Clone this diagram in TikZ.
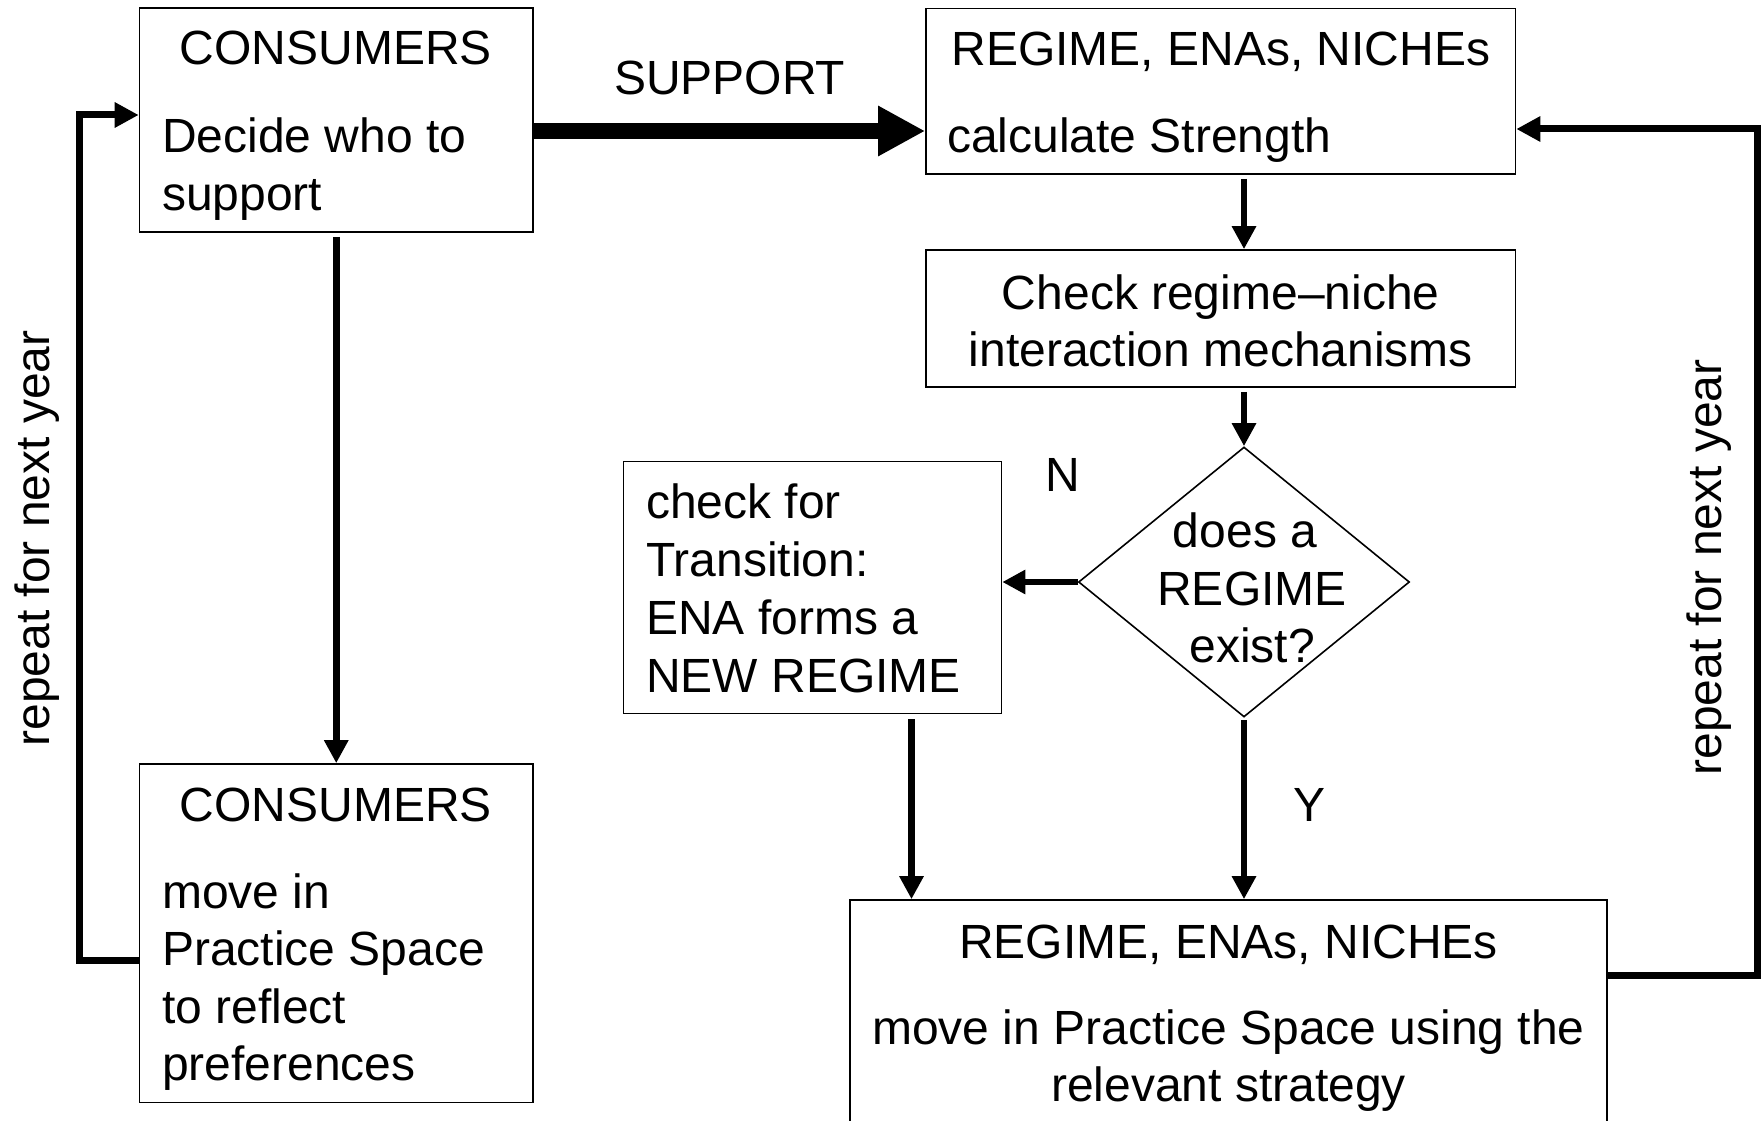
\documentclass[tikz,border=0pt]{standalone}
\usepackage{fontspec}
\setmainfont{Liberation Sans}
\usetikzlibrary{arrows.meta,shapes.geometric,calc}
\newcommand\diagfont{\fontsize{48pt}{57.5pt}\selectfont}
\tikzset{
  box/.style={draw, rectangle, line width=1.6pt, inner sep=0pt},
  decision/.style={draw, diamond, line width=1.6pt, inner sep=0pt},
  txt/.style={font=\diagfont, inner sep=0pt, anchor=base},
  txtl/.style={font=\diagfont, inner sep=0pt, anchor=base west},
  arr/.style={line width=6.5pt, -{Triangle[length=23pt,width=23pt]}},
  bigarr/.style={line width=16pt, -{Triangle[length=47pt,width=47pt]}},
  loopline/.style={line width=7pt, -{Triangle[length=24pt,width=24pt]}},
}
\begin{document}
\begin{tikzpicture}[x=1pt,y=-1pt]
\useasboundingbox (0,0) rectangle (1764,1121);
\fill[white] (0,0) rectangle (1764,1121);
\clip (0,0) rectangle (1764,1121);

% boxes
\node[box, minimum width=393.5pt, minimum height=224pt] (A) at (336.25,120) {};
\node[box, minimum width=589.5pt, minimum height=165.5pt] (B) at (1220.75,91.25) {};
\node[box, minimum width=589.5pt, minimum height=137pt] (C) at (1220.75,318.5) {};
\node[decision, minimum width=331pt, minimum height=270pt] (D) at (1244,582) {};
\node[box, minimum width=378pt, minimum height=252pt] (E) at (812.5,587.5) {};
\node[box, minimum width=757pt, minimum height=260pt] (F) at (1228.5,1030) {};
\node[box, minimum width=393.5pt, minimum height=338.5pt] (G) at (336.25,933.25) {};

% texts of the top left box
\node[txt]  (a1) at (336,65) {CONSUMERS};
\node[txtl] (a2) at (162,152.3) {Decide who to};
\node[txtl] (a3) at (162,210) {support};

% texts of the top right box
\node[txt]  (b1) at (1220.75,66) {REGIME, ENAs, NICHEs};
\node[txtl] (b2) at (947,152.3) {calculate Strength};

% interaction box
\node[txt] (c1) at (1220.75,309) {Check regime–niche};
\node[txt] (c2) at (1220.75,366.5) {interaction mechanisms};

% decision
\node[txt] (d1) at (1245,547) {does a};
\node[txt] (d2) at (1252,605) {REGIME};
\node[txt] (d3) at (1252,662) {exist?};

% transition box
\node[txtl] (e1) at (646,518) {check for};
\node[txtl] (e2) at (646,576.5) {Transition:};
\node[txtl] (e3) at (646,634.5) {ENA forms a};
\node[txtl] (e4) at (646,692) {NEW REGIME};

% bottom right box
\node[txt] (f1) at (1228.5,958) {REGIME, ENAs, NICHEs};
\node[txt] (f2) at (1228.5,1044) {move in Practice Space using the};
\node[txt] (f3) at (1228.5,1101) {relevant strategy};

% bottom left box
\node[txt]  (g1) at (336,821.7) {CONSUMERS};
\node[txtl] (g2) at (162,908) {move in};
\node[txtl] (g3) at (162,965.5) {Practice Space};
\node[txtl] (g4) at (162,1023) {to reflect};
\node[txtl] (g5) at (162,1080.5) {preferences};

% labels
\node[txt] (sup) at (729.6,95) {SUPPORT};
\node[txt] (no)  at (1063,491.7) {N};
\node[txt] (yes) at (1309,821.7) {Y};
\node[font=\diagfont, inner sep=0pt, rotate=90] (rl) at (37,538.5) {repeat for next year};
\node[font=\diagfont, inner sep=0pt, rotate=90] (rr) at (1709,567.5) {repeat for next year};

% support arrow
\coordinate (s1) at ($(A.east)+(0,11)$);
\draw[bigarr] (s1) -- (s1 -| B.west);

% flow arrows
\draw[arr, shorten <=4pt] (A.south) -- (G.north);
\draw[arr, shorten <=4pt] (B.south -| D.north) -- (C.north -| D.north);
\draw[arr, shorten <=4pt] (C.south -| D.north) -- (D.north);
\draw[arr] (D.west) -- (D.west -| E.east);
\coordinate (ex) at (911.5,0);
\draw[arr, shorten <=5pt] (E.south -| ex) -- (F.north -| ex);
\draw[arr, shorten <=2pt] (D.south) -- (D.south |- F.north);

% yearly loops
\coordinate (l1) at ($(G.west)+(0,27)$);
\coordinate (l2) at ($(A.west)+(0,-5)$);
\coordinate (lc) at (79,0);
\draw[loopline] (l1) -- (l1 -| lc) -- (l2 -| lc) -- (l2);

\coordinate (r1) at ($(F.east)+(0,-55)$);
\coordinate (r2) at ($(B.east)+(0,37.75)$);
\coordinate (rc) at (1757,0);
\draw[loopline] (r1) -- (r1 -| rc) -- (r2 -| rc) -- (r2);
\end{tikzpicture}
\end{document}
